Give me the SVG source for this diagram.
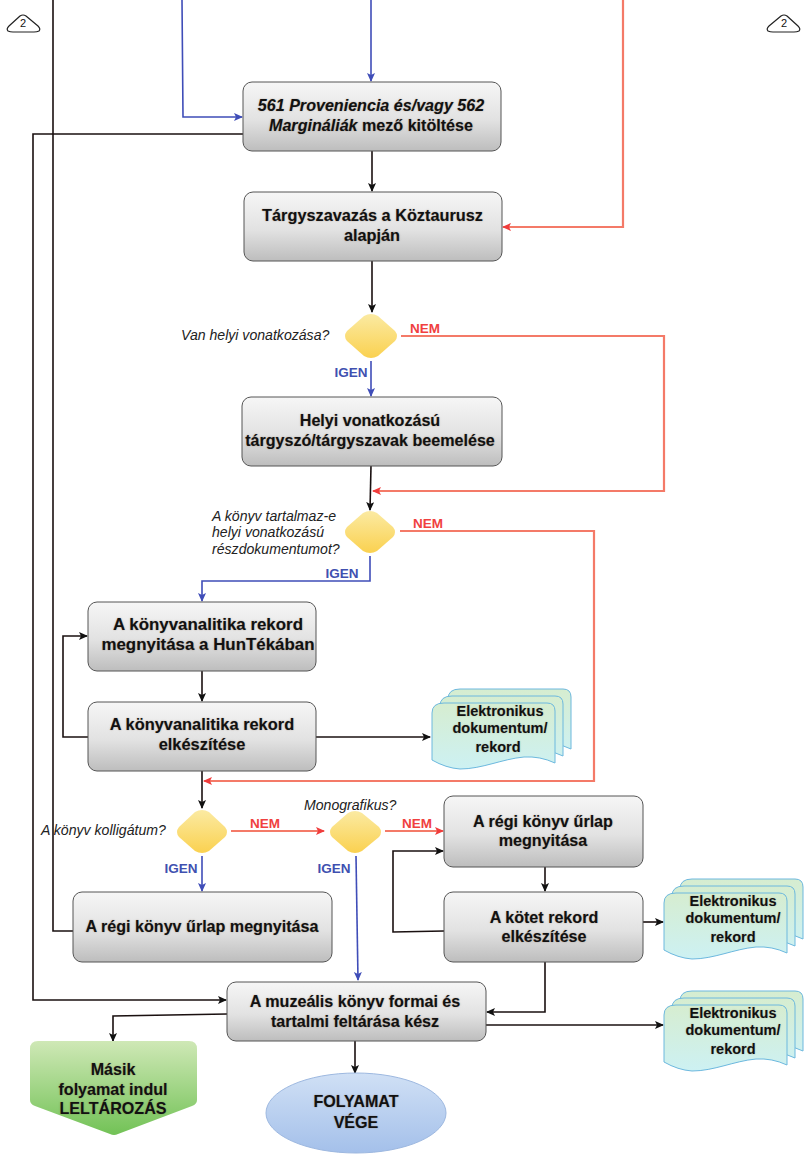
<svg xmlns="http://www.w3.org/2000/svg" width="805" height="1155" viewBox="0 0 805 1155">
<style>
text{font-family:"Liberation Sans",Arial,sans-serif;text-anchor:middle;fill:#111}
.b{font-weight:700;font-size:16.1px;text-shadow:0 0 1.5px rgba(110,80,60,.55)}
.d{font-weight:700;font-size:14.5px;text-shadow:0 0 1.5px rgba(110,80,60,.4)}
.q{font-style:italic;font-size:14.1px;text-anchor:start;fill:#222}
.n{font-weight:700;font-size:13.5px;fill:#f04040}
.i{font-weight:700;font-size:13.5px;fill:#4050b0}
.box{fill:url(#g);stroke:#555;stroke-width:1}
.dia{fill:url(#y);stroke:none}
.doc{fill:url(#c);stroke:#6cb8de;stroke-width:1}
.k{fill:none;stroke:#1a1010;stroke-width:1.6}
.u{fill:none;stroke:#3f4db8;stroke-width:1.6}
.r{fill:none;stroke:#f47a68;stroke-width:2.2}
.off{fill:#fff;stroke:#222;stroke-width:1.2;stroke-linejoin:round}
</style>
<defs>
<linearGradient id="g" x1="0" y1="0" x2="0" y2="1"><stop offset="0" stop-color="#f6f6f6"/><stop offset="0.55" stop-color="#e2e2e2"/><stop offset="1" stop-color="#bdbdbd"/></linearGradient>
<linearGradient id="y" x1="0" y1="0" x2="0" y2="1"><stop offset="0" stop-color="#fbeaa2"/><stop offset="1" stop-color="#fad150"/></linearGradient>
<linearGradient id="c" x1="0" y1="0" x2="0" y2="1"><stop offset="0" stop-color="#d6edd0"/><stop offset="1" stop-color="#cdf1f3"/></linearGradient>
<linearGradient id="lg" x1="0" y1="0" x2="0" y2="1"><stop offset="0" stop-color="#cfe8b6"/><stop offset="1" stop-color="#72c256"/></linearGradient>
<linearGradient id="bl" x1="0" y1="0" x2="0" y2="1"><stop offset="0" stop-color="#d0e0f5"/><stop offset="1" stop-color="#a4c0ea"/></linearGradient>
<marker id="ak" markerWidth="10" markerHeight="10" refX="8" refY="4" orient="auto" markerUnits="userSpaceOnUse"><path d="M0 0L9 4L0 8L2 4Z" fill="#111"/></marker>
<marker id="au" markerWidth="10" markerHeight="10" refX="8" refY="4" orient="auto" markerUnits="userSpaceOnUse"><path d="M0 0L9 4L0 8L2 4Z" fill="#3f4db8"/></marker>
<marker id="ar" markerWidth="10" markerHeight="10" refX="8" refY="4" orient="auto" markerUnits="userSpaceOnUse"><path d="M0 0L9 4L0 8L2 4Z" fill="#f03c3c"/></marker>
<path id="p" d="M0 10Q0 0 12 0H115Q123 0 123 8V60Q108 53 92 54C70 56 50 66 28 66Q14 65 0 57Z"/>
</defs>

<g id="connectors">
<path class="k" d="M53 0V931H73"/>
<path class="k" d="M243 134H33V1000H226" marker-end="url(#ak)"/>
<path class="u" d="M182 0L183 117H242" marker-end="url(#au)"/>
<path class="u" d="M371 0V81" marker-end="url(#au)"/>
<path class="r" d="M623 0V227H503" marker-end="url(#ar)"/>
<path class="k" d="M372 151V191" marker-end="url(#ak)"/>
<path class="k" d="M372 261V312" marker-end="url(#ak)"/>
<path class="u" d="M371 361V396" marker-end="url(#au)"/>
<path class="r" d="M401 336H664V491H373" marker-end="url(#ar)"/>
<path class="k" d="M371 466L370 510" marker-end="url(#ak)"/>
<path class="r" d="M400 531H594V781H204" marker-end="url(#ar)"/>
<path class="u" d="M370 556V581H202V601" marker-end="url(#au)"/>
<path class="k" d="M202 671V701" marker-end="url(#ak)"/>
<path class="k" d="M88 737H63V636H87" marker-end="url(#ak)"/>
<path class="k" d="M316 737H430" marker-end="url(#ak)"/>
<path class="k" d="M202 771V808" marker-end="url(#ak)"/>
<path class="r" d="M231 831H324" marker-end="url(#ar)"/>
<path class="r" d="M385 831H443" marker-end="url(#ar)"/>
<path class="u" d="M202 856V891" marker-end="url(#au)"/>
<path class="u" d="M356 856L358 980" marker-end="url(#au)"/>
<path class="k" d="M444 931L393 932V851H443" marker-end="url(#ak)"/>
<path class="k" d="M545 867V891" marker-end="url(#ak)"/>
<path class="k" d="M545 962V1012H487" marker-end="url(#ak)"/>
<path class="k" d="M643 922H663" marker-end="url(#ak)"/>
<path class="k" d="M486 1025H663" marker-end="url(#ak)"/>
<path class="k" d="M227 1014L113 1016V1041" marker-end="url(#ak)"/>
<path class="k" d="M355 1041V1073" marker-end="url(#ak)"/>
</g>

<g id="off1"><path class="off" d="M20 16Q23 14 26 16L38 26Q41 29 39 31Q37 32 34 32H13Q10 32 8 31Q6 29 9 26Z"/><text x="23" y="27" font-size="11">2</text></g>
<g id="off2"><path class="off" d="M781 16Q784 14 787 16L798 26Q801 29 799 31Q797 32 794 32H773Q770 32 768 31Q766 29 769 26Z"/><text x="784" y="27" font-size="11">2</text></g>

<g id="n561"><rect class="box" x="243" y="82" width="258" height="69" rx="9"/><text class="b" x="371" y="111"><tspan font-style="italic">561 Proveniencia és/vagy 562</tspan></text><text class="b" x="371" y="131"><tspan font-style="italic">Margináliák</tspan> mező kitöltése</text></g>
<g id="ntargy"><rect class="box" x="244" y="192" width="258" height="69" rx="9"/><text class="b" x="372.500" y="221" style="font-size:16.3px">Tárgyszavazás a Köztaurusz</text><text class="b" x="372" y="241" style="font-size:16.3px">alapján</text></g>
<g id="dhelyi"><path class="dia" d="M364 316Q371 312 378 316L395 331Q399 336 395 341L378 356Q371 360 364 356L347 341Q343 336 347 331Z"/><text class="q" x="181" y="340">Van helyi vonatkozása?</text></g>
<g id="nhelyi"><rect class="box" x="242" y="397" width="260" height="69" rx="9"/><text class="b" x="370" y="426">Helyi vonatkozású</text><text class="b" x="370" y="446">tárgyszó/tárgyszavak beemelése</text></g>
<g id="dresz"><path class="dia" d="M363 513Q370 509 377 513L393 527Q397 532 393 537L377 551Q370 555 363 551L347 537Q343 532 347 527Z"/><text class="q" x="212" y="521">A könyv tartalmaz-e</text><text class="q" x="212" y="537">helyi vonatkozású</text><text class="q" x="212" y="554">részdokumentumot?</text></g>
<g id="nanal1"><rect class="box" x="88" y="602" width="228" height="69" rx="9"/><text class="b" x="208" y="630" style="font-size:16.9px">A könyvanalitika rekord</text><text class="b" x="208" y="650" style="font-size:16.9px">megnyitása a HunTékában</text></g>
<g id="nanal2"><rect class="box" x="88" y="702" width="228" height="69" rx="9"/><text class="b" x="202" y="730" style="font-size:16.400px">A könyvanalitika rekord</text><text class="b" x="202" y="750" style="font-size:16.400px">elkészítése</text></g>
<g id="doc1"><use href="#p" class="doc" x="448" y="689"/><use href="#p" class="doc" x="440" y="696"/><use href="#p" class="doc" x="432" y="703"/><text class="d" x="500" y="716">Elektronikus</text><text class="d" x="500" y="733">dokumentum/</text><text class="d" x="498" y="752">rekord</text></g>
<g id="dkoll"><path class="dia" d="M195 812Q202 808 209 812L225 827Q229 832 225 837L209 851Q202 855 195 851L179 837Q175 832 179 827Z"/><text class="q" x="41" y="835">A könyv kolligátum?</text></g>
<g id="dmono"><path class="dia" d="M348 813Q355 809 362 813L379 827Q383 832 379 837L362 851Q355 855 348 851L332 837Q328 832 332 827Z"/><text class="q" x="304" y="810">Monografikus?</text></g>
<g id="nregi2"><rect class="box" x="444" y="796" width="199" height="71" rx="9"/><text class="b" x="543" y="827">A régi könyv űrlap</text><text class="b" x="543" y="846">megnyitása</text></g>
<g id="nkotet"><rect class="box" x="444" y="892" width="199" height="70" rx="9"/><text class="b" x="544" y="923">A kötet rekord</text><text class="b" x="544" y="942">elkészítése</text></g>
<g id="doc2"><use href="#p" class="doc" x="680" y="879"/><use href="#p" class="doc" x="672" y="886"/><use href="#p" class="doc" x="664" y="893"/><text class="d" x="733" y="906">Elektronikus</text><text class="d" x="733" y="923">dokumentum/</text><text class="d" x="733" y="942">rekord</text></g>
<g id="nregi1"><rect class="box" x="73" y="892" width="259" height="70" rx="9"/><text class="b" x="202" y="932">A régi könyv űrlap megnyitása</text></g>
<g id="nmuz"><rect class="box" x="227" y="982" width="259" height="59" rx="9"/><text class="b" x="355" y="1007">A muzeális könyv formai és</text><text class="b" x="355" y="1027">tartalmi feltárása kész</text></g>
<g id="doc3"><use href="#p" class="doc" x="680" y="991"/><use href="#p" class="doc" x="672" y="998"/><use href="#p" class="doc" x="664" y="1005"/><text class="d" x="733" y="1018">Elektronikus</text><text class="d" x="733" y="1035">dokumentum/</text><text class="d" x="733" y="1054">rekord</text></g>
<g id="ngreen"><path d="M38 1041H189Q197 1041 197 1049V1100Q197 1104 192 1106L118 1134Q114 1136 110 1134L35 1106Q30 1104 30 1100V1049Q30 1041 38 1041Z" fill="url(#lg)"/><text class="b" x="113" y="1075">Másik</text><text class="b" x="113" y="1095">folyamat indul</text><text class="b" x="113" y="1114">LELTÁROZÁS</text></g>
<g id="nend"><ellipse cx="356" cy="1113" rx="90" ry="40" fill="url(#bl)" stroke="#9db8e0"/><text class="b" x="356" y="1107">FOLYAMAT</text><text class="b" x="356" y="1128">VÉGE</text></g>

<text class="n" x="425" y="333">NEM</text>
<text class="i" x="351" y="377">IGEN</text>
<text class="n" x="428" y="528">NEM</text>
<text class="i" x="342" y="578">IGEN</text>
<text class="n" x="265" y="828">NEM</text>
<text class="n" x="417" y="828">NEM</text>
<text class="i" x="181" y="873">IGEN</text>
<text class="i" x="334" y="873">IGEN</text>
</svg>
